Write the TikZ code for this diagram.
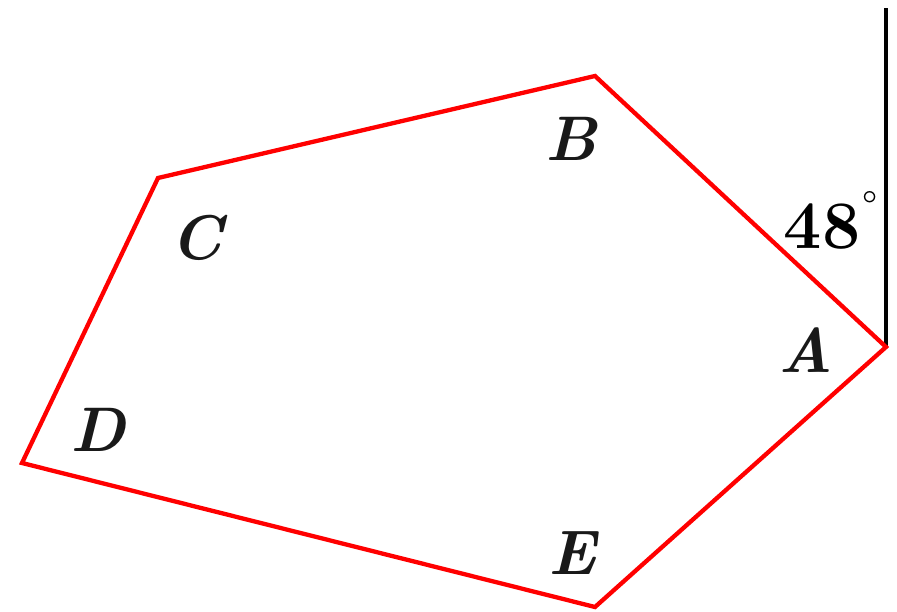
\documentclass[tikz,border=0pt]{standalone}
\begin{document}
\begin{tikzpicture}[x=1pt,y=-1pt,
  edge/.style={draw=red,line width=4.3pt,line join=miter},
  vlabel/.style={font=\fontsize{63}{63}\selectfont\bfseries\itshape,text=black!90,inner sep=0pt},
  anglabel/.style={font=\fontsize{68}{68}\selectfont\bfseries,inner sep=0pt}]
\useasboundingbox (0,0) rectangle (897,612);
\coordinate (A) at (886,347);
\coordinate (B) at (595,76);
\coordinate (C) at (158,178);
\coordinate (D) at (22,463);
\coordinate (E) at (595,607);
\coordinate (T) at (886,8);
\draw[line width=4.3pt] (A) -- (T);
\draw[edge] (A) -- (B) -- (C) -- (D) -- (E) -- cycle;
\node[vlabel] (lB) at (571,139) {B};
\node[vlabel] (lC) at (197,238) {C};
\node[vlabel] (lA) at (806,350) {A};
\node[vlabel] (lD) at (98,430) {D};
\node[vlabel] (lE) at (572,553) {E};
\node[anglabel] (ang) at (822,227) {48};
\node[inner sep=0pt,font=\fontsize{44}{44}\selectfont] (deg) at (870,206) {°};
\end{tikzpicture}
\end{document}
